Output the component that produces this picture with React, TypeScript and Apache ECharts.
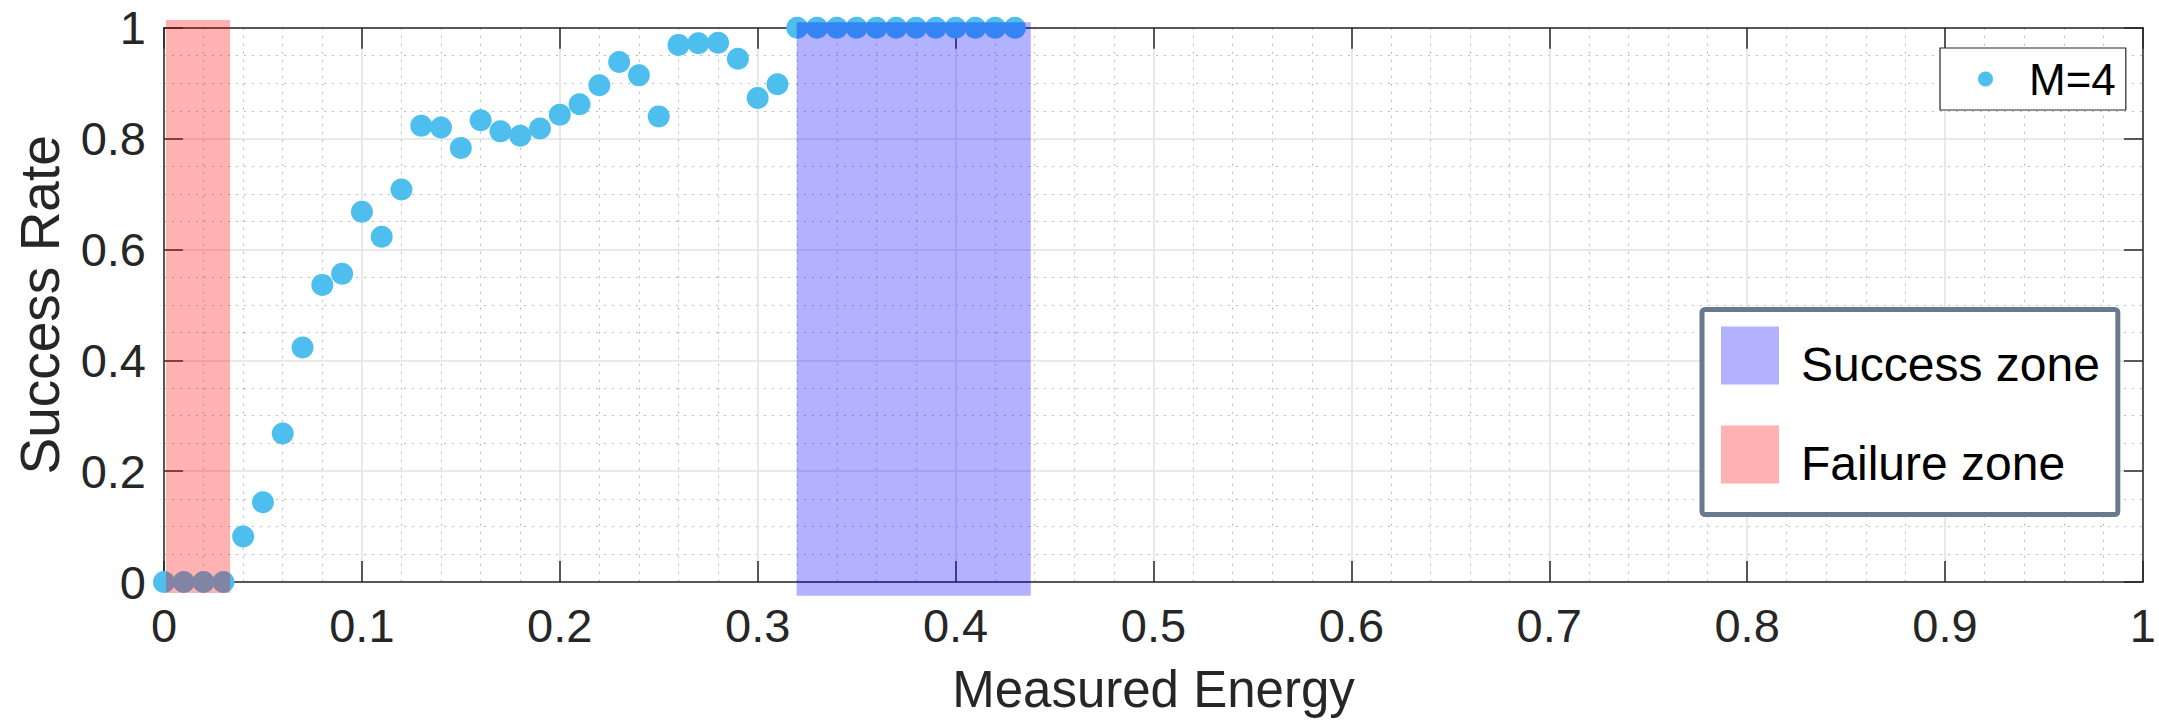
import React, { useEffect, useRef } from "react";
import * as echarts from "echarts";

// Measured energy (x) and success rate (y) for M=4
const energy = [
  0, 0.01, 0.02, 0.03, 0.04, 0.05, 0.06, 0.07, 0.08, 0.09,
  0.1, 0.11, 0.12, 0.13, 0.14, 0.15, 0.16, 0.17, 0.18, 0.19,
  0.2, 0.21, 0.22, 0.23, 0.24, 0.25, 0.26, 0.27, 0.28, 0.29,
  0.3, 0.31, 0.32, 0.33, 0.34, 0.35, 0.36, 0.37, 0.38, 0.39,
  0.4, 0.41, 0.42, 0.43,
];
const successRate = [
  0, 0, 0, 0, 0.082, 0.144, 0.268, 0.423, 0.536, 0.556,
  0.668, 0.623, 0.708, 0.823, 0.82, 0.783, 0.833, 0.813, 0.805, 0.818,
  0.843, 0.862, 0.896, 0.938, 0.914, 0.84, 0.969, 0.972, 0.973, 0.944,
  0.873, 0.898, 1, 1, 1, 1, 1, 1, 1, 1,
  1, 1, 1, 1,
];
const seriesName = "M=4";

// Shaded zones: [x start, x end, y bottom, y top]
const zoneNames = ["Success zone", "Failure zone"];
const zoneXStart = [0.3197, 0.001];
const zoneXEnd = [0.438, 0.0334];
const zoneYBottom = [-0.025, -0.02];
const zoneYTop = [1.01, 1.014];
const zoneColors = ["rgba(0,0,255,0.3)", "rgba(255,0,0,0.3)"];

// Axis ranges
const xMin = 0;
const xMax = 1;
const xStep = 0.1;
const yMin = 0;
const yMax = 1;
const yStep = 0.2;

const FONT = "'Liberation Sans', Arial, Helvetica, sans-serif";
const INK = "#262626";

export default function App() {
  const ref = useRef<HTMLDivElement>(null);

  useEffect(() => {
    if (!ref.current) return;
    const chart = echarts.init(ref.current, undefined, { renderer: "svg" });

    const points = energy.map((x, i) => [x, successRate[i]]);

    const zoneSeries = zoneNames.map((name, i) => ({
      name,
      type: "custom",
      z: 5,
      clip: false,
      silent: true,
      itemStyle: { color: zoneColors[i] },
      data: [[zoneXStart[i], zoneXEnd[i], zoneYBottom[i], zoneYTop[i]]],
      renderItem: (_params: any, api: any) => {
        const p0 = api.coord([api.value(0), api.value(3)]);
        const p1 = api.coord([api.value(1), api.value(2)]);
        return {
          type: "rect",
          shape: { x: p0[0], y: p0[1], width: p1[0] - p0[0], height: p1[1] - p0[1] },
          style: { fill: zoneColors[i] },
        };
      },
    }));

    const tickStyle = { color: INK, width: 1.5 };

    chart.setOption({
      animation: false,
      backgroundColor: "#ffffff",
      textStyle: { fontFamily: FONT },
      grid: { left: 164, right: 13, top: 27.7, bottom: 136.3, show: false },
      xAxis: [
        {
          type: "value",
          position: "bottom",
          min: xMin,
          max: xMax,
          interval: xStep,
          name: "Measured Energy",
          nameLocation: "middle",
          nameGap: 82,
          nameTextStyle: { fontSize: 51, color: INK, fontFamily: FONT },
          axisLine: { show: true, onZero: false, lineStyle: { color: INK, width: 1.5 } },
          axisTick: { show: true, inside: true, length: 21, lineStyle: tickStyle },
          axisLabel: { fontSize: 47, color: INK, margin: 20, fontFamily: FONT },
          splitLine: { show: true, lineStyle: { color: "#e2e2e2", width: 1.5 } },
          minorTick: { show: false, splitNumber: 5 },
          minorSplitLine: { show: true, lineStyle: { color: "#bdbdbd", width: 1.2, type: [2, 6] } },
        },
        {
          type: "value",
          position: "top",
          min: xMin,
          max: xMax,
          interval: xStep,
          axisLine: { show: true, onZero: false, lineStyle: { color: INK, width: 1.5 } },
          axisTick: { show: true, inside: true, length: 21, lineStyle: tickStyle },
          axisLabel: { show: false },
          splitLine: { show: false },
        },
      ],
      yAxis: [
        {
          type: "value",
          position: "left",
          min: yMin,
          max: yMax,
          interval: yStep,
          name: "Success Rate",
          nameLocation: "middle",
          nameGap: 97,
          nameTextStyle: { fontSize: 55, color: INK, fontFamily: FONT },
          axisLine: { show: true, onZero: false, lineStyle: { color: INK, width: 1.5 } },
          axisTick: { show: true, inside: true, length: 19, lineStyle: tickStyle },
          axisLabel: { fontSize: 47, color: INK, margin: 18, fontFamily: FONT },
          splitLine: { show: true, lineStyle: { color: "#e2e2e2", width: 1.5 } },
          minorTick: { show: false, splitNumber: 4 },
          minorSplitLine: { show: true, lineStyle: { color: "#bdbdbd", width: 1.2, type: [2, 6] } },
        },
        {
          type: "value",
          position: "right",
          min: yMin,
          max: yMax,
          interval: yStep,
          axisLine: { show: true, onZero: false, lineStyle: { color: INK, width: 1.5 } },
          axisTick: { show: true, inside: true, length: 19, lineStyle: tickStyle },
          axisLabel: { show: false },
          splitLine: { show: false },
        },
      ],
      legend: [
        {
          data: [seriesName],
          left: 1940,
          top: 48,
          orient: "vertical",
          icon: "circle",
          itemWidth: 15,
          itemHeight: 15,
          selectedMode: false,
          backgroundColor: "#ffffff",
          borderColor: INK,
          borderWidth: 1.2,
          padding: [9, 10, 9, 38],
          textStyle: { fontSize: 44, color: "#000000", fontFamily: FONT, padding: [0, 0, 0, 31] },
        },
        {
          data: zoneNames,
          left: 1702,
          top: 309.5,
          orient: "vertical",
          icon: "rect",
          itemWidth: 58,
          itemHeight: 58,
          itemGap: 37,
          selectedMode: false,
          backgroundColor: "#ffffff",
          borderColor: "#6b798e",
          borderWidth: 5,
          borderRadius: 3,
          padding: [17, 18, 27, 19],
          // a thin spacer line nudges each label slightly below its swatch centre
          formatter: (name: string) => `{gap| }\n{t|${name}}`,
          textStyle: {
            fontFamily: FONT,
            padding: [0, 0, 0, 17],
            rich: {
              gap: { fontSize: 1, lineHeight: 18 },
              t: { fontSize: 48, lineHeight: 48, color: "#000000", fontFamily: FONT },
            },
          },
        },
      ],
      series: [
        {
          name: seriesName,
          type: "scatter",
          z: 3,
          clip: false,
          symbol: "circle",
          symbolSize: 22,
          itemStyle: { color: "#4DBEEE", opacity: 1 },
          data: points,
        },
        ...zoneSeries,
      ],
    });

    return () => chart.dispose();
  }, []);

  return (
    <div
      ref={ref}
      style={{ position: "absolute", left: 0, top: 0, width: 2159, height: 720 }}
    />
  );
}
